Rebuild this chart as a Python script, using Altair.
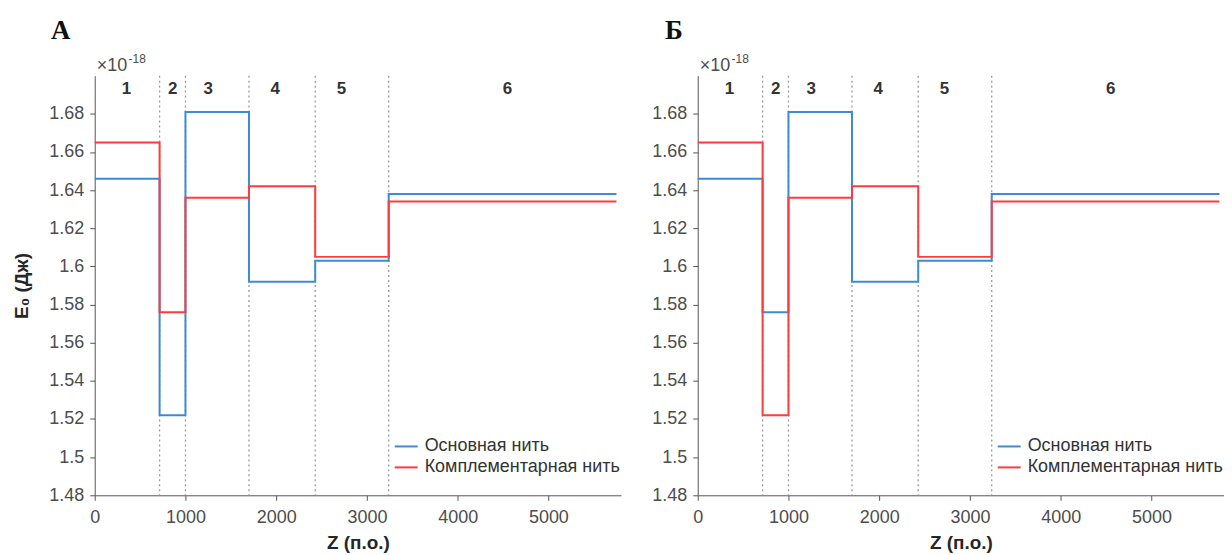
import altair as alt
import pandas as pd

# ---- data ----
z_edges = [0, 715, 1000, 1700, 2430, 3240, 5750]          # segment starts + end (п.о.)
boundary_z = [715, 1000, 1700, 2430, 3240]                  # dotted region separators
region_names = ["1", "2", "3", "4", "5", "6"]
region_label_z = [350, 860, 1250, 1990, 2720, 4550]
series_names = ["Основная нить", "Комплементарная нить"]

# E0 values in units of 1e-18 J, one per region
a_main = [1.646, 1.522, 1.681, 1.592, 1.603, 1.638]
a_comp = [1.665, 1.576, 1.636, 1.642, 1.605, 1.634]
b_main = [1.646, 1.576, 1.681, 1.592, 1.603, 1.638]
b_comp = [1.665, 1.522, 1.636, 1.642, 1.605, 1.634]

y_ticks = [1.48, 1.50, 1.52, 1.54, 1.56, 1.58, 1.60, 1.62, 1.64, 1.66, 1.68]
x_ticks = [0, 1000, 2000, 3000, 4000, 5000]
panel_letters = ["А", "Б"]

W, H = 528, 421
BLUE = "#3d8bd4"
RED = "#ff3b3b"
FONT = "Liberation Sans"


def step_df(values):
    vals = values + [values[-1]]
    return pd.DataFrame({"z": z_edges, "E": vals})


def panel(letter, main_vals, comp_vals, first):
    xscale = alt.Scale(domain=[0, 5800], nice=False, zero=False)
    yscale = alt.Scale(domain=[1.48, 1.70], nice=False, zero=False)
    xaxis = alt.Axis(values=x_ticks, format="d", title="Z (п.о.)", labelPadding=8,
                     titlePadding=7, labelFlush=False)
    if first:
        yaxis = alt.Axis(values=y_ticks, format=".2~f", title="E₀ (Дж)", labelPadding=6,
                         titlePadding=17)
    else:
        yaxis = alt.Axis(values=y_ticks, format=".2~f", title=None, labelPadding=6)

    rules = alt.Chart(pd.DataFrame({"z": boundary_z})).mark_rule(
        color="#9a9a9a", strokeDash=[2, 3], strokeWidth=1.3
    ).encode(x=alt.X("z:Q", scale=xscale, axis=xaxis))

    blue = alt.Chart(step_df(main_vals)).mark_line(
        interpolate="step-after", strokeWidth=2, color=BLUE
    ).encode(x=alt.X("z:Q", scale=xscale), y=alt.Y("E:Q", scale=yscale, axis=yaxis))

    red = alt.Chart(step_df(comp_vals)).mark_line(
        interpolate="step-after", strokeWidth=2, color=RED
    ).encode(x=alt.X("z:Q", scale=xscale), y=alt.Y("E:Q", scale=yscale))

    labels = alt.Chart(pd.DataFrame({"z": region_label_z, "t": region_names})).mark_text(
        font=FONT, fontSize=17, fontWeight="bold", color="#333333", baseline="middle"
    ).encode(x=alt.X("z:Q", scale=xscale), y=alt.value(13), text="t:N")

    one = pd.DataFrame({"k": [0]})
    letter_mark = alt.Chart(one).mark_text(
        text=letter, font="Liberation Serif", fontSize=27, fontWeight="bold",
        color="#111111", baseline="alphabetic", align="center"
    ).encode(x=alt.value(-34 if first else -24), y=alt.value(-37))

    exp_base = alt.Chart(one).mark_text(
        text="×10", font=FONT, fontSize=18, color="#4d4d4d", baseline="alphabetic", align="left"
    ).encode(x=alt.value(2), y=alt.value(-5))
    exp_sup = alt.Chart(one).mark_text(
        text="-18", font=FONT, fontSize=12, color="#4d4d4d", baseline="alphabetic", align="left"
    ).encode(x=alt.value(34), y=alt.value(-13))

    leg = []
    for name, col, ly in [(series_names[0], BLUE, 372), (series_names[1], RED, 393)]:
        leg.append(alt.Chart(one).mark_rule(color=col, strokeWidth=2).encode(
            x=alt.value(301), x2=alt.value(324), y=alt.value(ly)))
        leg.append(alt.Chart(one).mark_text(
            text=name, font=FONT, fontSize=18, color="#333333", baseline="middle", align="left"
        ).encode(x=alt.value(331), y=alt.value(ly)))

    return alt.layer(rules, blue, red, labels, letter_mark, exp_base, exp_sup, *leg).properties(
        width=W, height=H
    )


left = panel(panel_letters[0], a_main, a_comp, True)
right = panel(panel_letters[1], b_main, b_comp, False)

chart = alt.hconcat(left, right, spacing=77, bounds="flush").configure_view(
    strokeOpacity=0
).configure_axis(
    grid=False, domainColor="#555555", tickColor="#555555", domainWidth=1, tickWidth=1,
    tickSize=5, labelColor="#4d4d4d", labelFont=FONT, labelFontSize=18,
    titleFont=FONT, titleFontSize=19, titleFontWeight="bold", titleColor="#262626"
).properties(
    padding={"top": 8, "left": 4, "right": 0, "bottom": 0}
)

chart.save("out.html", embed_options={"renderer": "svg", "actions": False})
